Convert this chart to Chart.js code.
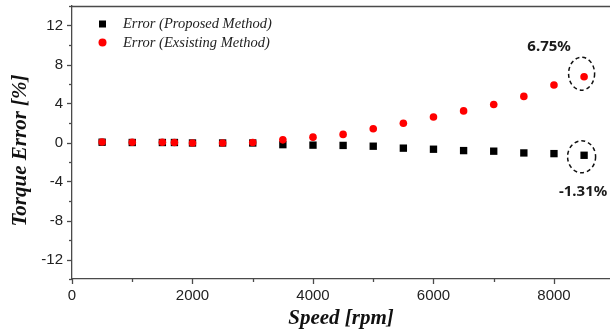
<!DOCTYPE html>
<html>
<head>
<meta charset="utf-8">
<script src="https://cdn.jsdelivr.net/npm/chart.js@4/dist/chart.umd.min.js"></script>
<style>
  html, body { margin: 0; padding: 0; background: #fff; }
  #wrap { width: 610px; height: 331px; }
</style>
</head>
<body>
<div id="wrap"><canvas id="myChart" width="610" height="331"></canvas></div>
<script>
// Datos
const velocidades = [500, 1000, 1500, 1700, 2000, 2500, 3000, 3500, 4000, 4500, 5000, 5500, 6000, 6500, 7000, 7500, 8000, 8500];
const errorPropuesto = [0.03, 0.0, 0.0, 0.0, -0.05, -0.05, -0.05, -0.22, -0.27, -0.3, -0.38, -0.58, -0.69, -0.83, -0.89, -1.07, -1.14, -1.31];
const errorExistente = [0.05, 0.02, 0.02, 0.0, -0.05, -0.05, 0.0, 0.27, 0.55, 0.83, 1.41, 1.97, 2.62, 3.24, 3.89, 4.73, 5.9, 6.75];
const etiquetasY = [-12, -8, -4, 0, 4, 8, 12];
const etiquetasX = [0, 2000, 4000, 6000, 8000];
const nombres = ['Error (Proposed Method)', 'Error (Exsisting Method)'];
const notas = ['6.75%', '-1.31%'];
const tituloY = 'Torque Error [%]';

const ejeColor = '#4a4a4a';
const fuenteTitulo = { family: '"Liberation Serif", "DejaVu Serif", serif', size: 21, weight: 'bold', style: 'italic' };
const fuenteTick = { family: '"Liberation Sans", Arial, sans-serif', size: 15 };

function puntos(ys) {
  return velocidades.map((x, i) => ({ x: x, y: ys[i] }));
}

// Marcas de los ejes (mayores y menores), titulo Y, leyenda interna y anotaciones
const extras = {
  id: 'extras',
  afterDraw(chart) {
    const ctx = chart.ctx;
    const area = chart.chartArea;
    const sx = chart.scales.x;
    const sy = chart.scales.y;
    ctx.save();
    ctx.strokeStyle = ejeColor;
    ctx.lineWidth = 1.3;

    // marco superior
    ctx.beginPath();
    ctx.moveTo(area.left, area.top + 0.5);
    ctx.lineTo(area.right, area.top + 0.5);
    ctx.stroke();

    // ticks del eje x
    for (let v = 0; v <= sx.max; v += 1000) {
      const px = Math.round(sx.getPixelForValue(v)) + 0.5;
      const largo = v % 2000 === 0 ? 5 : 3;
      ctx.beginPath();
      ctx.moveTo(px, area.bottom);
      ctx.lineTo(px, area.bottom + largo);
      ctx.stroke();
    }
    // ticks del eje y
    for (let v = sy.min; v <= sy.max; v += 2) {
      const py = Math.round(sy.getPixelForValue(v)) + 0.5;
      const largo = v % 4 === 0 ? 5 : 3;
      ctx.beginPath();
      ctx.moveTo(area.left, py);
      ctx.lineTo(area.left - largo, py);
      ctx.stroke();
    }

    // titulo del eje y (un poco bajo el centro, como en la figura)
    ctx.save();
    ctx.translate(21, (area.top + area.bottom) / 2 + 8);
    ctx.rotate(-Math.PI / 2);
    ctx.fillStyle = '#111';
    ctx.font = 'italic bold 21px "Liberation Serif", serif';
    ctx.textAlign = 'center';
    ctx.textBaseline = 'middle';
    ctx.fillText(tituloY, 0, 0);
    ctx.restore();

    // leyenda dentro del area
    ctx.fillStyle = '#000';
    ctx.fillRect(area.left + 27, 20.5, 7, 7);
    ctx.fillStyle = '#ff0000';
    ctx.beginPath();
    ctx.arc(area.left + 30.5, 42.5, 4, 0, Math.PI * 2);
    ctx.fill();
    ctx.fillStyle = '#222';
    ctx.font = 'italic 14.5px "Liberation Serif", serif';
    ctx.textBaseline = 'middle';
    ctx.textAlign = 'left';
    ctx.fillText(nombres[0], area.left + 51, 24.5);
    ctx.fillText(nombres[1], area.left + 51, 43);

    // elipses punteadas y valores finales
    const n = velocidades.length - 1;
    const xr = sx.getPixelForValue(velocidades[n]);
    const yRojo = sy.getPixelForValue(errorExistente[n]);
    const yNegro = sy.getPixelForValue(errorPropuesto[n]);
    ctx.strokeStyle = '#111';
    ctx.lineWidth = 1.5;
    ctx.setLineDash([4, 3]);
    ctx.beginPath();
    ctx.ellipse(xr - 2.5, yRojo - 3, 13, 16.5, 0, 0, Math.PI * 2);
    ctx.stroke();
    ctx.beginPath();
    ctx.ellipse(xr - 2.5, yNegro + 1.5, 14, 16, 0, 0, Math.PI * 2);
    ctx.stroke();
    ctx.setLineDash([]);

    ctx.fillStyle = '#1a1a1a';
    ctx.font = 'bold 15px "Noto Sans", "Open Sans", sans-serif';
    ctx.textAlign = 'center';
    ctx.fillText(notas[0], xr - 35, yRojo - 30);
    ctx.fillText(notas[1], xr - 1, yNegro + 36);
    ctx.restore();
  }
};

var ctx = document.getElementById('myChart').getContext('2d');
var myChart = new Chart(ctx, {
  type: 'scatter',
  data: {
    datasets: [{
      label: nombres[1],
      data: puntos(errorExistente),
      pointStyle: 'circle',
      pointRadius: 3.8,
      backgroundColor: '#ff0000',
      borderColor: '#ff0000',
      borderWidth: 0,
      order: 0
    }, {
      label: nombres[0],
      data: puntos(errorPropuesto),
      pointStyle: 'rect',
      pointRadius: 5.2,
      backgroundColor: '#000',
      borderColor: '#000',
      borderWidth: 0,
      order: 1
    }]
  },
  options: {
    responsive: false,
    animation: false,
    layout: { autoPadding: false, padding: { top: 6, right: 0, bottom: 0, left: 0 } },
    plugins: {
      legend: { display: false },
      tooltip: { enabled: false }
    },
    scales: {
      x: {
        type: 'linear',
        bounds: 'data',
        min: 0,
        max: 8930,
        grid: { display: false, drawTicks: false },
        border: { display: true, color: ejeColor, width: 1.3 },
        afterBuildTicks: s => { s.ticks = etiquetasX.map(v => ({ value: v })); },
        ticks: {
          autoSkip: false,
          maxRotation: 0,
          padding: 8,
          color: '#222',
          font: fuenteTick,
          callback: v => String(v)
        },
        title: { display: true, text: 'Speed [rpm]', color: '#111', font: fuenteTitulo, padding: { top: 0, bottom: 0 } },
        afterFit: s => { s.height = 52; s.paddingLeft = 0; s.paddingRight = 0; }
      },
      y: {
        bounds: 'data',
        min: -14,
        max: 14,
        grid: { display: false, drawTicks: false },
        border: { display: true, color: ejeColor, width: 1.3 },
        afterBuildTicks: s => { s.ticks = etiquetasY.map(v => ({ value: v })); },
        ticks: {
          autoSkip: false,
          padding: 9,
          color: '#222',
          font: fuenteTick,
          callback: v => String(v)
        },
        title: { display: false },
        afterFit: s => { s.width = 72; s.paddingTop = 0; s.paddingBottom = 0; }
      }
    }
  },
  plugins: [extras]
});
</script>
</body>
</html>
